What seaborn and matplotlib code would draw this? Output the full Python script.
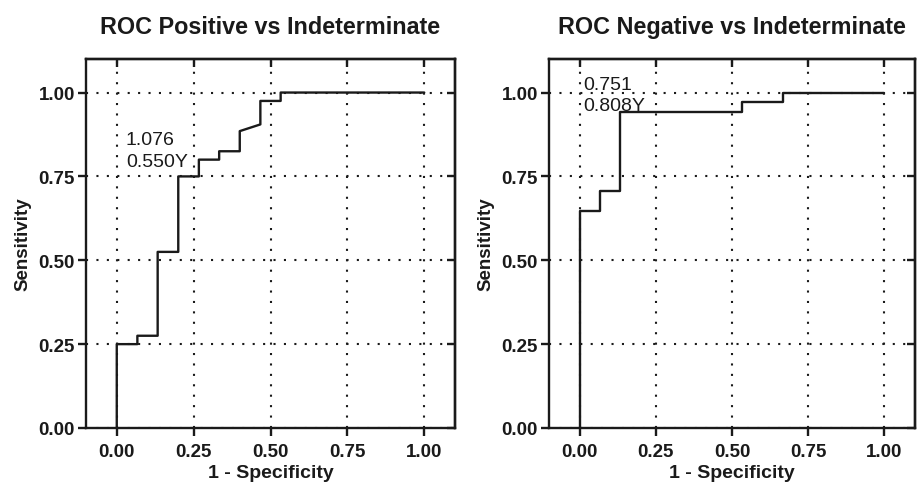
# ROC curves: Positive vs Indeterminate, Negative vs Indeterminate

import pandas as pd
import matplotlib
matplotlib.use('Agg')
import matplotlib.pyplot as plt
import seaborn as sns

# ROC points (1 - specificity, sensitivity)
pos_fpr = [0.0, 0.0, 0.067, 0.067, 0.133, 0.133, 0.2, 0.2, 0.267, 0.267,
           0.333, 0.333, 0.4, 0.4, 0.467, 0.467, 0.533, 0.533, 1.0]
pos_tpr = [0.0, 0.25, 0.25, 0.275, 0.275, 0.525, 0.525, 0.75, 0.75, 0.8,
           0.8, 0.825, 0.825, 0.885, 0.905, 0.975, 0.975, 1.0, 1.0]

neg_fpr = [0.0, 0.0, 0.067, 0.067, 0.133, 0.133, 0.533, 0.533, 0.667, 0.667, 1.0]
neg_tpr = [0.0, 0.647, 0.647, 0.706, 0.706, 0.941, 0.941, 0.971, 0.971, 1.0, 1.0]

titles = ['ROC Positive vs Indeterminate', 'ROC Negative vs Indeterminate']
labels = ['1.076\n0.550Y', '0.751\n0.808Y']
label_pos = [(0.03, 0.77), (0.012, 0.935)]
ticks = [0.0, 0.25, 0.5, 0.75, 1.0]

sns.set_style('ticks')
plt.rcParams['font.family'] = ['Liberation Sans', 'DejaVu Sans']

fig = plt.figure(figsize=(9.19, 4.89), dpi=100)
axes = [fig.add_axes([0.0936, 0.1227, 0.4015, 0.7546]),
        fig.add_axes([0.5974, 0.1227, 0.3982, 0.7546])]

curves = [pd.DataFrame({'fpr': pos_fpr, 'tpr': pos_tpr}),
          pd.DataFrame({'fpr': neg_fpr, 'tpr': neg_tpr})]

ink = '#1a1a1a'
for ax, df, title, lab, lp in zip(axes, curves, titles, labels, label_pos):
    ax.grid(True, color=ink, linestyle=(0, (1, 4)), linewidth=1.5)
    sns.lineplot(data=df, x='fpr', y='tpr', ax=ax, sort=False,
                 estimator=None, color=ink, linewidth=1.7, zorder=3)
    ax.set_xlim(-0.1, 1.1)
    ax.set_ylim(0, 1.1)
    ax.set_xticks(ticks)
    ax.set_yticks(ticks)
    ax.set_xticklabels([f'{t:.2f}' for t in ticks])
    ax.set_yticklabels([f'{t:.2f}' for t in ticks])
    for s in ax.spines.values():
        s.set_visible(True)
        s.set_linewidth(1.7)
        s.set_color(ink)
    ax.tick_params(direction='out', length=6, width=1.7, color=ink,
                   labelsize=13.5, labelcolor=ink)
    ax.tick_params(axis='x', pad=5)
    ax.tick_params(axis='y', pad=2)
    for t in ax.get_xticklabels() + ax.get_yticklabels():
        t.set_fontweight('bold')
    # inward ticks on top and right
    top = ax.secondary_xaxis('top')
    top.set_xticks(ticks)
    top.tick_params(direction='in', length=6, width=1.7, color=ink, labeltop=False)
    right = ax.secondary_yaxis('right')
    right.set_yticks(ticks)
    right.tick_params(direction='in', length=6, width=1.7, color=ink, labelright=False)
    for sp in list(top.spines.values()) + list(right.spines.values()):
        sp.set_linewidth(1.7)
        sp.set_color(ink)

    ax.set_xlabel('1 - Specificity', fontsize=14, fontweight='bold', color=ink, labelpad=3)
    ax.set_ylabel('Sensitivity', fontsize=13.5, fontweight='bold', color=ink, labelpad=5)
    ax.set_title(title, fontsize=16.8, fontweight='bold', color=ink, pad=19)
    ax.text(lp[0], lp[1], lab, fontsize=14, color=ink, ha='left', va='bottom',
            linespacing=1.35, zorder=4)

fig.savefig('out.png', dpi=100)
